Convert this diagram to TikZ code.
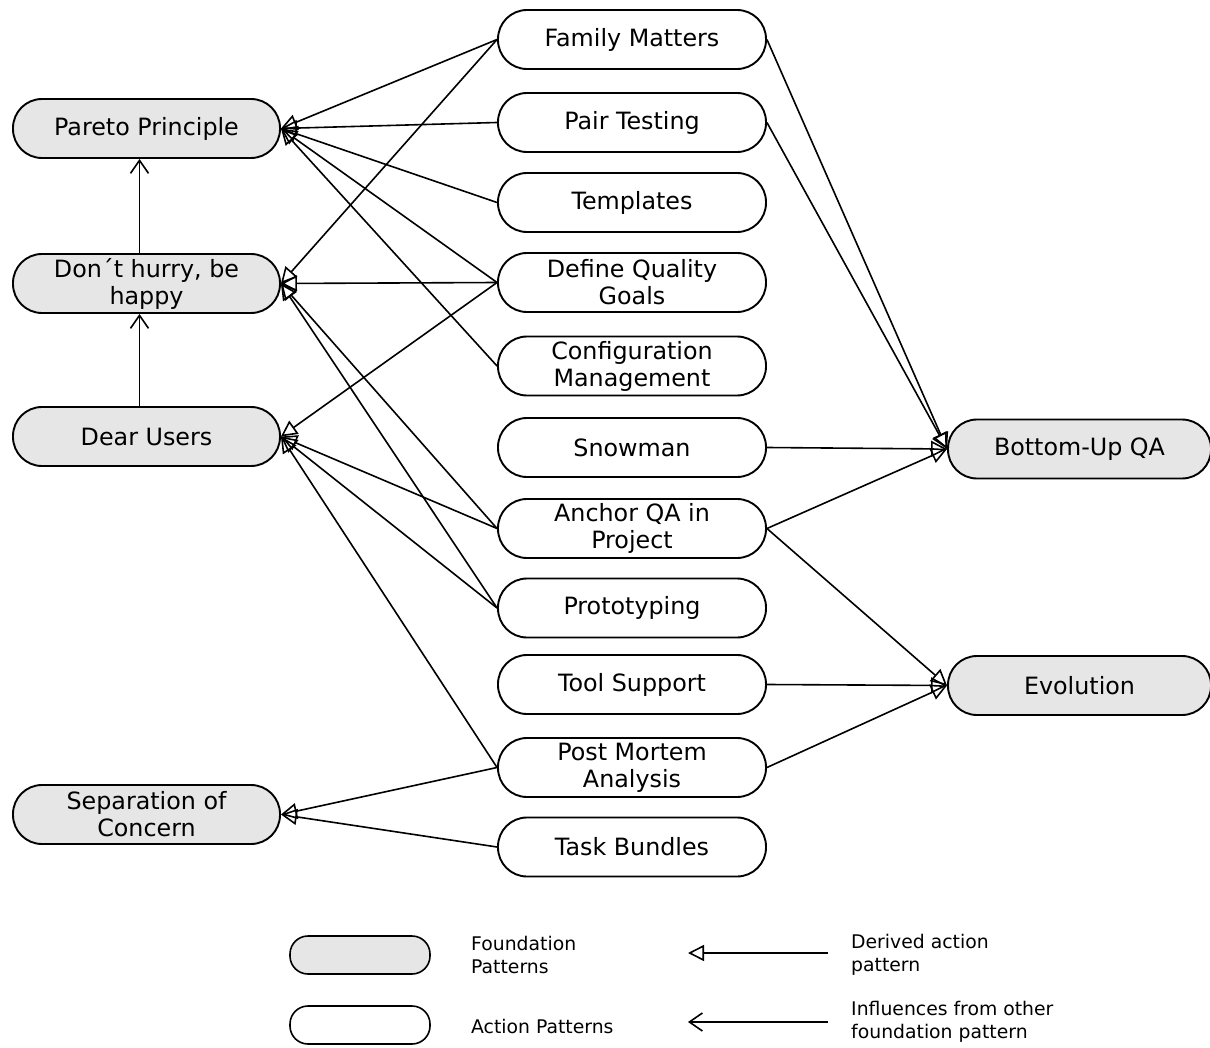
\documentclass[tikz,border=0pt]{standalone}
\usepackage{fontspec}
\setmainfont{DejaVu Sans}
\newfontfamily\legendfont{DejaVu Sans}
\usetikzlibrary{arrows.meta,calc}
\definecolor{gfill}{RGB}{230,230,230}
\begin{document}
\begin{tikzpicture}[x=1pt,y=-1pt,
  found/.style={draw, line width=1.9pt, fill=gfill, rounded corners=29pt,
    minimum width=267pt, minimum height=59pt, inner sep=0pt, align=center,
    font=\fontsize{23.8}{27}\selectfont},
  act/.style={found, fill=white, minimum width=268pt},
  legbox/.style={draw, line width=1.6pt, rounded corners=18pt,
    minimum width=140pt, minimum height=38pt, inner sep=0pt},
  legtext/.style={anchor=west, align=left, inner sep=0pt,
    font=\legendfont\fontsize{18.8}{23.5}\selectfont},
  der/.style={line width=1.6pt, -{Triangle[open, length=16pt, width=16pt, line width=1.6pt]}},
  infl/.style={line width=1.6pt, -{Straight Barb[length=13pt, width=18pt, line width=1.6pt]}},
  ]
\useasboundingbox (0,0) rectangle (1210,1048);

% foundation patterns
\node[found] (PP) at (146.5,128.5) {Pareto Principle};
\node[found] (DH) at (146.5,283.5) {Don´t hurry, be\\happy};
\node[found] (DU) at (146.5,436.5) {Dear Users};
\node[found] (SC) at (146.5,814.5) {Separation of\\Concern};
\node[found, minimum width=263pt] (BU) at (1079.5,449) {Bottom-Up QA};
\node[found, minimum width=263pt] (EV) at (1079.5,685.5) {Evolution};

% action patterns
\node[act] (FM) at (632,39.5) {Family Matters};
\node[act] (PT) at (632,122.5) {Pair Testing};
\node[act] (TE) at (632,202.5) {Templates};
\node[act] (DQ) at (632,282.5) {Define Quality\\Goals};
\node[act] (CM) at (632,366) {Configuration\\Management};
\node[act] (SN) at (632,447.5) {Snowman};
\node[act] (AQ) at (632,528.5) {Anchor QA in\\Project};
\node[act] (PR) at (632,608) {Prototyping};
\node[act] (TS) at (632,684.5) {Tool Support};
\node[act] (PM) at (632,767.5) {Post Mortem\\Analysis};
\node[act] (TB) at (632,847) {Task Bundles};

% influences between foundation patterns
\draw[infl] ([xshift=-7pt]DH.north) -- ([xshift=-7pt]PP.south);
\draw[infl] ([xshift=-7pt]DU.north) -- ([xshift=-7pt]DH.south);

% derived action patterns -> left foundations
\foreach \s in {FM,PT,TE,DQ,CM} \draw[der] (\s.west) -- (PP.east);
\foreach \s in {FM,DQ,AQ,PR} \draw[der] (\s.west) -- (DH.east);
\foreach \s in {DQ,AQ,PR,PM} \draw[der] (\s.west) -- (DU.east);
\foreach \s in {PM,TB} \draw[der] (\s.west) -- (SC.east);

% derived action patterns -> right foundations
\foreach \s in {FM,PT,SN,AQ} \draw[der] (\s.east) -- (BU.west);
\foreach \s in {AQ,TS,PM} \draw[der] (\s.east) -- (EV.west);

% legend
\node[legbox, fill=gfill] (LF) at (360,955) {};
\node[legbox, fill=white] (LA) at (360,1025) {};
\node[legtext] (LFt) at (471,955) {Foundation\\Patterns};
\node[legtext] (LAt) at (471,1026) {Action Patterns};
\coordinate (D1) at (828,953);
\coordinate (D2) at (688,953);
\coordinate (I1) at (828,1022);
\coordinate (I2) at (688,1022);
\draw[der] (D1) -- (D2);
\draw[infl] (I1) -- (I2);
\node[legtext] (LDt) at (851,955) {Derived action\\pattern};
\node[legtext] (LIt) at (851,1022) {Influences from other\\foundation pattern};
\end{tikzpicture}
\end{document}
